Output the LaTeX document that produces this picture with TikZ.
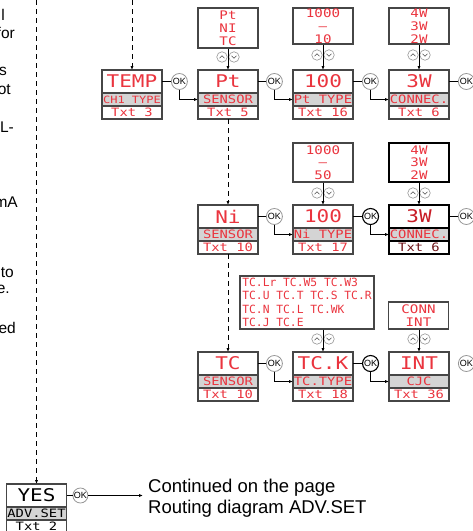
\documentclass[tikz,border=0pt]{standalone}
\usepackage{fontspec}
\setmainfont{Liberation Sans}
\newfontfamily\lcd[FakeStretch=1.2]{DejaVu Sans Mono}
\newfontfamily\lcdn{DejaVu Sans Mono}
\usetikzlibrary{positioning,arrows.meta}
\definecolor{lcdred}{RGB}{234,52,62}
\definecolor{selred}{RGB}{200,28,38}
\definecolor{seldark}{RGB}{110,20,24}
\definecolor{rowgray}{RGB}{212,212,212}
\definecolor{framegray}{RGB}{70,70,70}
\definecolor{okgray}{RGB}{150,150,150}
\tikzset{
  lcdtop/.style={draw=framegray, line width=1.2pt, minimum width=60pt, minimum height=23pt,
    inner sep=0pt, outer sep=0pt, fill=white, text=lcdred, font=\lcd\fontsize{17.5}{17.5}\selectfont},
  lcdmid/.style={lcdtop, fill=rowgray, minimum height=13pt, font=\lcd\fontsize{11.5}{11.5}\selectfont},
  lcdbot/.style={lcdmid, fill=white},
  lcdsel/.style={draw=black, line width=1.8pt},
  lcdopt/.style={draw=framegray, line width=1.2pt, minimum width=60pt, inner sep=0pt,
    text=lcdred, align=center, font=\lcd\fontsize{11.8}{12.8}\selectfont},
  okc/.style={circle, draw=okgray, fill=white, line width=0.8pt, minimum size=16pt,
    inner sep=0pt, font=\fontsize{9}{9}\selectfont},
  oksel/.style={draw=black, line width=1.1pt},
  updn/.style={circle, draw=okgray, fill=white, line width=0.6pt, minimum size=10.5pt, inner sep=0pt},
  chev/.style={line width=0.6pt, draw=black!70},
  wire/.style={line width=0.8pt, -{Latex[length=4pt,width=3.2pt]}},
  lead/.style={line width=0.8pt},
  frag/.style={inner sep=0pt, anchor=base east, font=\fontsize{15.5}{18}\selectfont},
}
\begin{document}
\begin{tikzpicture}[x=1pt,y=-1pt]
\useasboundingbox (0,0) rectangle (473,531);

% cut-off text on the left
\node [frag] (f1) at (5,20) {l};
\node [frag] (f2) at (15,38) {for};
\node [frag] (f3) at (7,75) {s};
\node [frag] (f4) at (11,94) {ot};
\node [frag] (f5) at (14,132) {L-};
\node [frag] (f6) at (18,207) {mA};
\node [frag] (f7) at (14,277) {to};
\node [frag] (f8) at (10,293) {e.};
\node [frag] (f9) at (16,333) {ed};

% first row
\node [lcdtop] (temp) at (132,81.5) {TEMP};
\node [lcdmid, below=0pt of temp] (tempm) {\fontsize{10}{10}\selectfont CH1 TYPE};
\node [lcdbot, below=0pt of tempm] (tempb) {Txt 3};

\node [lcdtop] (pt) at (228,81.5) {Pt};
\node [lcdmid, below=0pt of pt] (ptm) {SENSOR};
\node [lcdbot, below=0pt of ptm] (ptb) {Txt 5};

\node [lcdtop] (ptt) at (323,81.5) {100};
\node [lcdmid, below=0pt of ptt] (pttm) {Pt TYPE};
\node [lcdbot, below=0pt of pttm] (pttb) {Txt 16};

\node [lcdtop] (ptc) at (419,81.5) {3W};
\node [lcdmid, below=0pt of ptc] (ptcm) {CONNEC.};
\node [lcdbot, below=0pt of ptcm] (ptcb) {Txt 6};

% second row
\node [lcdtop] (ni) at (228,216.5) {Ni};
\node [lcdmid, below=0pt of ni] (nim) {SENSOR};
\node [lcdbot, below=0pt of nim] (nib) {Txt 10};

\node [lcdtop] (nit) at (323,216.5) {100};
\node [lcdmid, below=0pt of nit] (nitm) {Ni TYPE};
\node [lcdbot, below=0pt of nitm] (nitb) {Txt 17};

\node [lcdtop, lcdsel, text=selred] (nic) at (419,216.5) {3W};
\node [lcdmid, lcdsel, below=0pt of nic] (nicm) {CONNEC.};
\node [lcdbot, lcdsel, text=seldark, below=0pt of nicm] (nicb) {Txt 6};

% third row
\node [lcdtop] (tc) at (228,363.5) {TC};
\node [lcdmid, below=0pt of tc] (tcm) {SENSOR};
\node [lcdbot, below=0pt of tcm] (tcb) {Txt 10};

\node [lcdtop] (tct) at (323,363.5) {TC.K};
\node [lcdmid, below=0pt of tct] (tctm) {TC.TYPE};
\node [lcdbot, below=0pt of tctm] (tctb) {Txt 18};

\node [lcdtop] (cjc) at (419,363.5) {INT};
\node [lcdmid, below=0pt of cjc] (cjcm) {CJC};
\node [lcdbot, below=0pt of cjcm] (cjcb) {Txt 36};

% advanced settings
\node [lcdtop, text=black] (yes) at (36.5,495.5) {YES};
\node [lcdmid, text=black, below=0pt of yes] (yesm) {ADV.SET};
\node [lcdbot, text=black, below=0pt of yesm] (yesb) {Txt 2};

% choices
\node [lcdopt, minimum height=40pt] (optsens) at (228,28) {Pt\\NI\\TC};
\node [lcdopt, minimum height=36pt] (optpt) at (323,26) {1000\\–\\10};
\node [lcdopt, minimum height=36pt] (optptc) at (419,26) {4W\\3W\\2W};
\node [lcdopt, minimum height=39pt] (optni) at (323,162.5) {1000\\–\\50};
\node [lcdopt, lcdsel, minimum height=39pt] (optnic) at (419,162.5) {4W\\3W\\2W};
\node [lcdopt, minimum width=134pt, minimum height=53pt, align=left,
  font=\lcdn\fontsize{11.3}{13.3}\selectfont] (opttc) at (307,302.5)
  {TC.Lr TC.W5 TC.W3\\TC.U TC.T TC.S TC.R\\TC.N TC.L TC.WK\\TC.J TC.E};
\node [lcdopt, minimum height=27pt] (optcjc) at (418.5,315.5) {CONN\\INT};

% up / down keys
\foreach \ux/\uy [count=\i] in {228/57,323/55,419/55,323/193,419/193,323/339,419/339} {
  \node [updn] (up\i) at (\ux-6,\uy) {};
  \node [updn] (dn\i) at (\ux+6,\uy) {};
  \draw [chev] (\ux-8.5,\uy+1.2) -- (\ux-6,\uy-1.3) -- (\ux-3.5,\uy+1.2);
  \draw [chev] (\ux+3.5,\uy-1.2) -- (\ux+6,\uy+1.3) -- (\ux+8.5,\uy-1.2);
}

\draw [wire] (optsens.south) -- (pt.north);
\draw [wire] (optpt.south) -- (ptt.north);
\draw [wire] (optptc.south) -- (ptc.north);
\draw [wire] (optni.south) -- (nit.north);
\draw [wire] (optnic.south) -- (nic.north);
\draw [wire] (opttc.south -| tct.north) -- (tct.north);
\draw [wire] (optcjc.south -| cjc.north) -- (cjc.north);

% OK keys
\node [okc, right=9pt of temp] (oktemp) {OK};
\node [okc, right=8pt of pt] (okpt) {OK};
\node [okc, right=9pt of ptt] (okptt) {OK};
\node [okc, right=9pt of ptc] (okptc) {OK};
\node [okc, right=8pt of ni] (okni) {OK};
\node [okc, oksel, right=9pt of nit] (oknit) {OK};
\node [okc, right=9pt of nic] (oknic) {OK};
\node [okc, right=8pt of tc] (oktc) {OK};
\node [okc, oksel, right=9pt of tct] (oktct) {OK};
\node [okc, right=9pt of cjc] (okcjc) {OK};
\node [okc, minimum size=15pt, right=6pt of yes] (okyes) {OK};

\draw [lead] (temp) -- (oktemp);
\draw [wire] (oktemp.south) |- (ptm.west);
\draw [lead] (pt) -- (okpt);
\draw [wire] (okpt.south) |- (pttm.west);
\draw [lead] (ptt) -- (okptt);
\draw [wire] (okptt.south) |- (ptcm.west);
\draw [lead] (ptc) -- (okptc);

\draw [lead] (ni) -- (okni);
\draw [wire] (okni.south) |- (nitm.west);
\draw [lead] (nit) -- (oknit);
\draw [wire] (oknit.south) |- (nicm.west);
\draw [lead] (nic) -- (oknic);

\draw [lead] (tc) -- (oktc);
\draw [wire] (oktc.south) |- (tctm.west);
\draw [lead] (tct) -- (oktct);
\draw [wire] (oktct.south) |- (cjcm.west);

% way down through the menu
\coordinate (advin) at (36.5,0);
\coordinate (tempin) at (132,0);
\draw [wire, dash pattern=on 5pt off 4pt] (advin) -- (yes);
\draw [wire, dash pattern=on 5pt off 4pt] (tempin) -- (temp);
\draw [wire, dash pattern=on 5pt off 4pt] (ptb) -- (ni);
\draw [wire, dash pattern=on 5pt off 4pt] (nib) -- (tc);

\node [anchor=west, align=left, inner sep=0pt, inner xsep=5pt,
  font=\fontsize{18.5}{21}\selectfont] (cont) at (143,498)
  {Continued on the page\\Routing diagram ADV.SET};
\draw [lead] (yes) -- (okyes);
\draw [wire] (okyes) -- (okyes -| cont.west);

\end{tikzpicture}
\end{document}
